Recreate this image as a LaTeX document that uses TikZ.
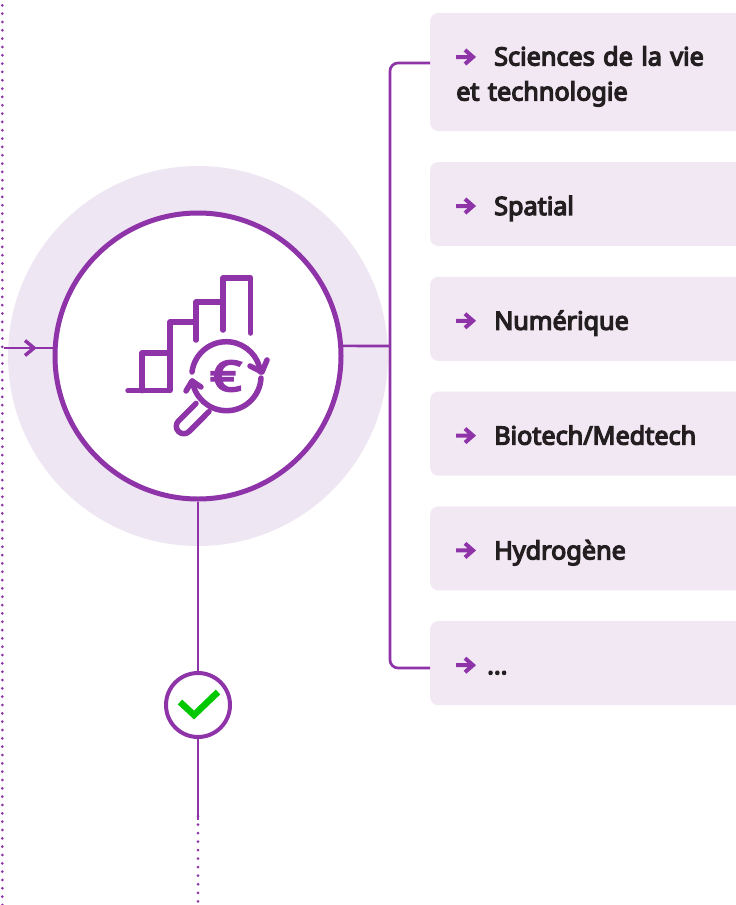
\documentclass[tikz,border=0pt]{standalone}
\usepackage{fontspec}
\newfontfamily\itemfont[FakeBold=5]{Noto Sans}
\usepackage{xcolor}
\usetikzlibrary{calc,arrows}
\definecolor{violetline}{HTML}{8E33A8}
\definecolor{halofill}{HTML}{EFE6F3}
\definecolor{boxfill}{HTML}{F2E8F4}
\definecolor{boxtext}{HTML}{231F20}
\definecolor{checkgreen}{HTML}{00C800}
\tikzset{
	branchbox/.style={fill=boxfill,rounded corners=8pt,anchor=west,minimum width=340pt,minimum height=84pt,text width=340pt,inner sep=0pt,align=left,text=boxtext,font=\itemfont\fontsize{25.2}{35}\selectfont,execute at begin node={\rule[-6pt]{0pt}{34pt}}},
	link/.style={draw=violetline,line width=2.7pt},
	dotline/.style={draw=violetline,line width=3pt,line cap=round,dash pattern=on 0pt off #1},
	iconline/.style={draw=violetline,line width=5.5pt,line cap=round,line join=round},
	itemarrow/.pic={\draw[violetline,line width=4pt] (0,0) -- (17,0) (9,-7) -- (17,0) -- (9,7);}
}
\begin{document}
\begin{tikzpicture}[x=1pt,y=-1pt,node distance=114.8pt]
		\useasboundingbox (0,0) rectangle (736,905);
		\fill[halofill] (198,356) circle (190);

		\coordinate (lefttop) at (2.3,5.3);
		\coordinate (leftbot) at (2.3,905);
		\coordinate (entry) at (4,348);
		\coordinate (trunk) at (390,346);
		\coordinate (stemend) at (198,820);
		\coordinate (dotstart) at (198,816);
		\coordinate (dotend) at (198,905);

		\node[circle,draw=violetline,line width=5pt,fill=white,minimum size=286pt,inner sep=0pt] (hub) at (198,356) {};
		\node[circle,draw=violetline,line width=4pt,fill=white,minimum size=64pt,inner sep=0pt] (check) at (198,705) {};

		\node[branchbox,minimum height=118pt] (b1) at (430,72) {\hspace*{64pt}Sciences de la vie\\\hspace*{26pt}et technologie};
		\node[branchbox] (b2) at (430,204) {\hspace*{64pt}Spatial};
		\node[branchbox] (b3) [below of=b2] {\hspace*{64pt}Numérique};
		\node[branchbox] (b4) [below of=b3] {\hspace*{64pt}Biotech/Medtech};
		\node[branchbox] (b5) [below of=b4] {\hspace*{64pt}Hydrogène};
		\node[branchbox] (b6) [below of=b5] {\hspace*{57pt}...};

		\pic at ($(b1.west)+(26,-15)$) {itemarrow};
		\pic at ($(b2.west)+(26,2)$) {itemarrow};
		\pic at ($(b3.west)+(26,2)$) {itemarrow};
		\pic at ($(b4.west)+(26,2)$) {itemarrow};
		\pic at ($(b5.west)+(26,2)$) {itemarrow};
		\pic at ($(b6.west)+(26,2)$) {itemarrow};

		\path[dotline=8.33pt] (lefttop) -- (leftbot);
		\path[dotline=8.53pt] (dotstart) -- (dotend);

		\path[link] (entry) -- (entry -| hub.west);
		\path[link,line width=3.5pt] ($(entry)+(21,-7.5)$) -- ($(entry)+(30,0)$) -- ($(entry)+(21,7.5)$);
		\path[link] (hub.4) -- (trunk);
		\path[link,rounded corners=8pt] (b1.west |- 0,63) -- (390,63) -- (390,668) -- (b6.west |- 0,668);
		\path[link] (hub.south) -- (check.north);
		\path[link] (check.south) -- (stemend);

		% check mark
		\draw[checkgreen,line width=6.5pt] (180,702) -- (194,715) -- (218,692);

		% bars
		\path[iconline] (128,390.7) -- (170,390.7) -- (170,322) -- (196,322) -- (196,340);
		\path[iconline] (142,390.7) -- (142,353) -- (170,353);
		\path[iconline] (196,322) -- (196,302) -- (223,302) -- (223,330);
		\path[iconline] (223,302) -- (223,278) -- (250.7,278) -- (250.7,333);

		% magnifier
		\path[iconline] (192,372) arc[start angle=187,end angle=353,radius=34.5];
		\path[iconline] (261,378) arc[start angle=3,end angle=172,radius=34.5];
		\path[iconline] (250,366) -- (262,372) -- (267,360);
		\path[iconline] (186,391) -- (192,381) -- (201,387);
		\path[iconline] (196,403.4) -- (178.5,420.9) arc[start angle=225,delta angle=-180,radius=7.5] -- (209,411.6);
		\node[text=violetline,font=\itemfont\fontsize{42}{42}\selectfont,inner sep=0pt] (euro) at (226,376) {\scalebox{1.3}[1]{€}};
\end{tikzpicture}
\end{document}
